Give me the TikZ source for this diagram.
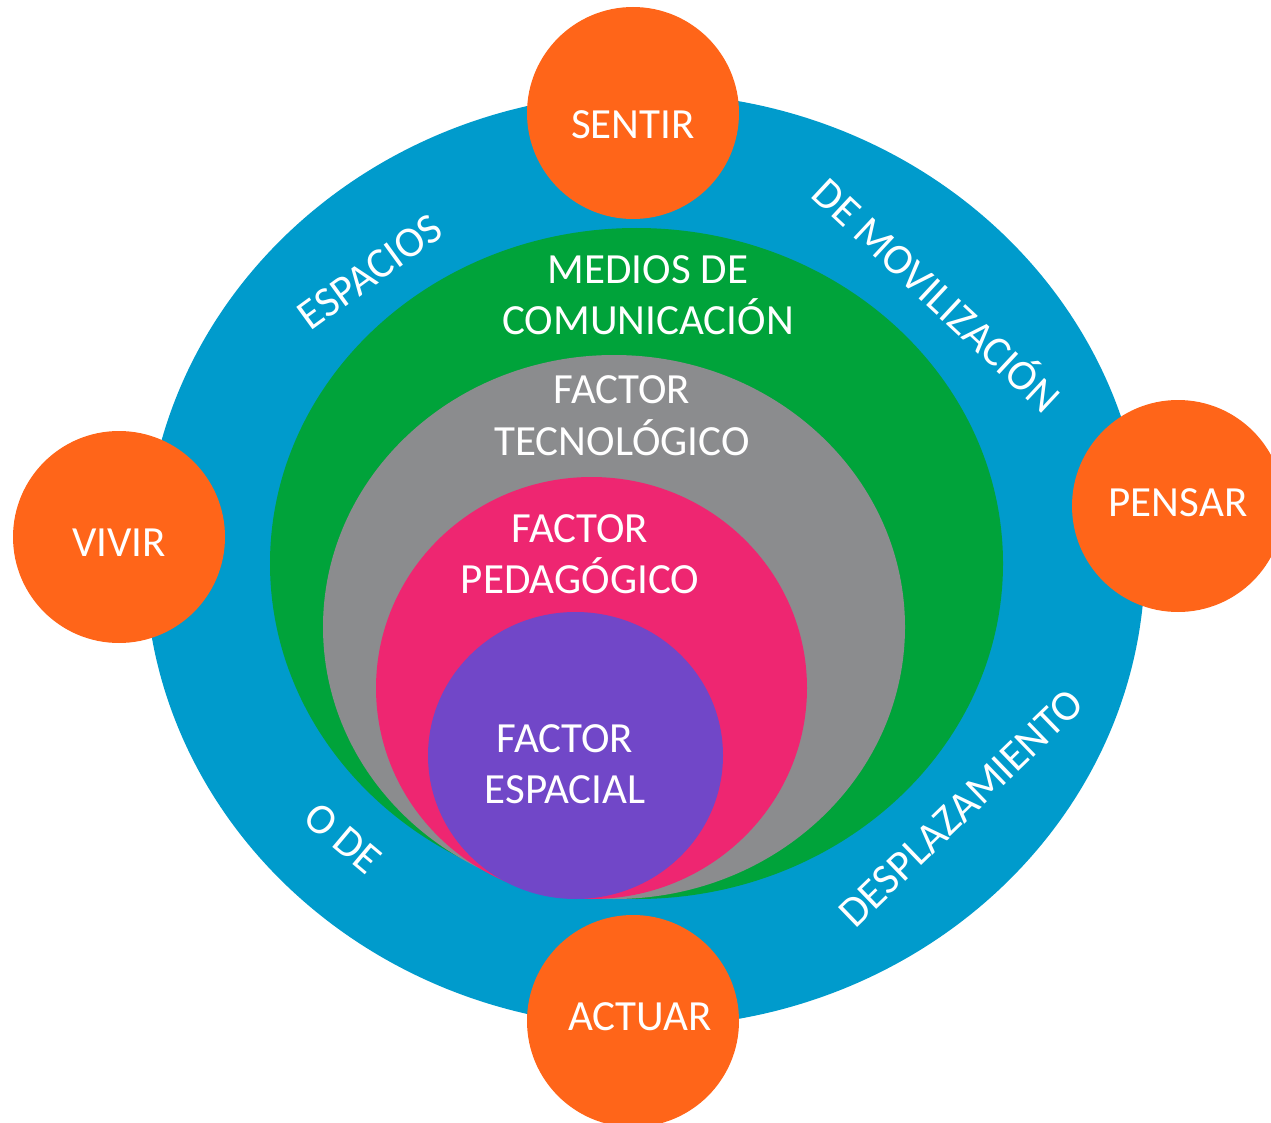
\documentclass[tikz,border=0pt]{standalone}
\usepackage{fontspec}
\setmainfont{Carlito}
\usetikzlibrary{shapes.geometric}
\definecolor{ringblue}{RGB}{0,155,204}
\definecolor{mediagreen}{RGB}{0,163,58}
\definecolor{techgray}{RGB}{139,140,142}
\definecolor{pedpink}{RGB}{238,38,113}
\definecolor{spacepurple}{RGB}{113,71,200}
\definecolor{actorange}{RGB}{255,101,25}
\tikzset{
  blob/.style={ellipse, inner sep=0pt, outer sep=0pt, draw=none},
  verbc/.style={circle, fill=actorange, inner sep=0pt, outer sep=0pt, minimum size=212pt},
  lbl/.style={text=white, font=\fontsize{43}{51.5}\selectfont, inner sep=0pt, align=center},
}
\begin{document}
\begin{tikzpicture}[x=1pt,y=-1pt]
\useasboundingbox (0,0) rectangle (1271,1123);
\clip (0,0) rectangle (1271,1123);
% nested ellipses
\node[blob, fill=ringblue, minimum width=1000pt, minimum height=934pt] (ring) at (645,560) {};
\node[blob, fill=mediagreen, minimum width=733pt, minimum height=671pt] (medios) at (636.5,563.5) {};
\node[blob, fill=techgray, minimum width=582pt, minimum height=544pt] (tecno) at (614,627) {};
\node[blob, fill=pedpink, minimum width=431pt, minimum height=422pt] (pedago) at (591.5,688) {};
\node[blob, fill=spacepurple, minimum width=295pt, minimum height=287pt] (espacial) at (575.5,755.5) {};
% orange circles
\node[verbc] (sentirc) at (633,113) {};
\node[verbc] (vivirc) at (119,537) {};
\node[verbc] (pensarc) at (1178,506) {};
\node[verbc] (actuarc) at (633,1021) {};
% labels in circles
\node[lbl] (sentir) at (633,125) {SENTIR};
\node[lbl] (vivir) at (119,543) {VIVIR};
\node[lbl] (pensar) at (1178,503) {PENSAR};
\node[lbl] (actuar) at (640,1017) {ACTUAR};
% labels in ellipses
\node[lbl] (tmedios) at (648,295) {MEDIOS DE\\COMUNICACIÓN};
\node[lbl] (ttecno) at (622,415.5) {FACTOR\\TECNOLÓGICO};
\node[lbl] (tpedago) at (580,554) {FACTOR\\PEDAGÓGICO};
\node[lbl] (tespacial) at (565,764) {FACTOR\\ESPACIAL};
% ring texts
\node[lbl, rotate=36] (tespacios) at (370,272) {ESPACIOS};
\node[lbl, rotate=-43] (tmovil) at (939,293) {DE MOVILIZACIÓN};
\node[lbl, rotate=-40] (tode) at (343,838) {O DE};
\node[lbl, rotate=44] (tdespl) at (961,808) {DESPLAZAMIENTO};
\end{tikzpicture}
\end{document}
